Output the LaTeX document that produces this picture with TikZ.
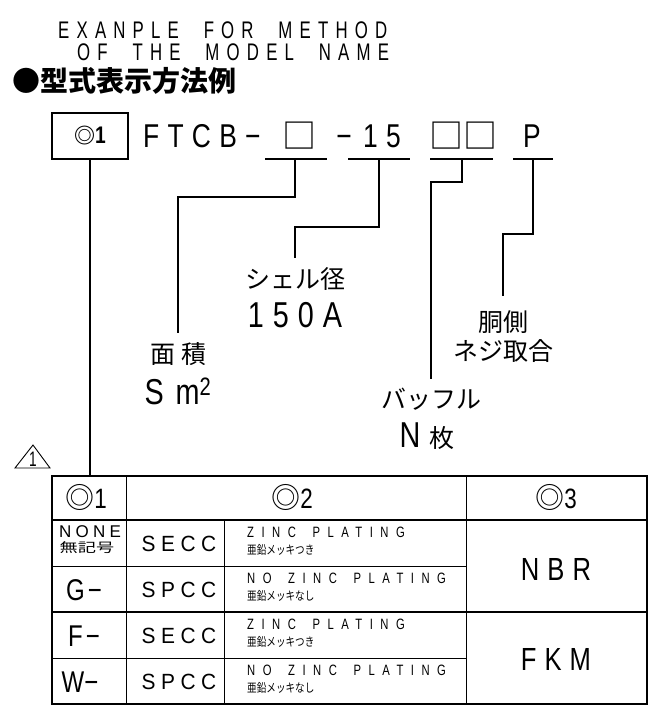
\documentclass[tikz,border=0pt]{standalone}
\usepackage{fontspec}
\setmainfont{Liberation Sans}
\newfontfamily\jp{Noto Sans CJK JP}
\newfontfamily\jpwide{Noto Sans CJK JP}[FakeStretch=1.4]
\newfontfamily\jpnarrow{Noto Sans CJK JP}[FakeStretch=0.8]
\newfontfamily\titlef{Liberation Sans}[FakeStretch=0.7,LetterSpace=30]
\newfontfamily\codef{Liberation Sans}[FakeStretch=0.8,LetterSpace=25]
\newfontfamily\unitf{Liberation Sans}[FakeStretch=0.8]
\newfontfamily\matf{Liberation Sans}[FakeStretch=0.95,LetterSpace=25]
\newfontfamily\cellf{Liberation Sans}[FakeStretch=0.75,LetterSpace=50]
\newfontfamily\wordf{Liberation Sans}[LetterSpace=25]
\newfontfamily\narrowf{Liberation Sans}[FakeStretch=0.65]
\usetikzlibrary{positioning}

\begin{document}
\begin{tikzpicture}[
  x=1pt, y=-1pt,
  lead/.style={line width=2.2pt},
  frame/.style={line width=1.8pt},
  rule/.style={line width=0.9pt},
  tag/.style={draw, line width=1.8pt, minimum width=76pt, minimum height=46pt, inner sep=0pt},
  lbl/.style={inner xsep=0pt, inner ysep=9pt, anchor=north, font=\jp\fontsize{25}{25}\selectfont},
  num/.style={inner sep=0pt, font=\codef\fontsize{36}{36}\selectfont},
  cell/.style={inner sep=0pt, anchor=base},
  head/.style={cell, font=\codef\fontsize{28}{28}\selectfont},
  code/.style={cell, font=\unitf\fontsize{30}{30}\selectfont},
  caption/.style={cell, anchor=base west, font=\titlef\fontsize{24}{24}\selectfont}
]
\useasboundingbox (0,0) rectangle (652,709);

% title
\node[caption] (title1) at (58,38) {EXANPLE\hspace{13pt} FOR\hspace{13pt} METHOD};
\node[caption] (title2) at (77,60) {OF\hspace{13pt} THE\hspace{13pt} MODEL\hspace{13pt} NAME};
\node[cell, anchor=base west, font=\jp\bfseries\fontsize{28}{28}\selectfont] (heading) at (12,91) {●型式表示方法例};

% model name
\node[tag] (opt) at (90,136) {{\jp\bfseries\fontsize{21}{21}\selectfont ◎}{\unitf\bfseries\fontsize{24}{24}\selectfont 1}};
\node[cell, anchor=base west, font=\codef\fontsize{33}{33}\selectfont] (series) at (143,147) {FTCB−};
\node[cell, font=\jp\fontsize{34}{34}\selectfont] (area) at (299,148) {□};
\node[cell, font=\codef\fontsize{33}{33}\selectfont] (dash) at (344,147) {−};
\node[cell, font=\codef\fontsize{33}{33}\selectfont] (dia) at (382,147) {15};
\node[cell, font=\jp\fontsize{34}{34}\selectfont] (baffle) at (463,148) {□□};
\node[cell, font=\codef\fontsize{33}{33}\selectfont] (port) at (532,147) {P};

% underlines
\coordinate (area-l) at (265,159);  \coordinate (area-r) at (327,159);  \coordinate (area-t) at (295,159);
\coordinate (dia-l) at (348,159);   \coordinate (dia-r) at (410,159);   \coordinate (dia-t) at (379,159);
\coordinate (baf-l) at (430,159);   \coordinate (baf-r) at (493,159);   \coordinate (baf-t) at (462,159);
\coordinate (port-l) at (513,159);  \coordinate (port-r) at (553,159);  \coordinate (port-t) at (533,159);
\draw[lead] (area-l) -- (area-r);
\draw[lead] (dia-l) -- (dia-r);
\draw[lead] (baf-l) -- (baf-r);
\draw[lead] (port-l) -- (port-r);

% labels
\node[lbl] (arealbl) at (178,333) {面\hspace{6pt}積};
\node[num, font=\unitf\fontsize{36}{36}\selectfont, below=3pt of arealbl] (areaunit) {S\hspace{12pt}m\textsuperscript{2}};
\node[lbl] (dialbl) at (295,258) {シェル径};
\node[num, below=3pt of dialbl] (diaunit) {150A};
\node[lbl, inner ysep=14pt] (portlbl) at (503,296) {胴側};
\node[lbl, anchor=north, below=-17pt of portlbl] (portsub) {ネジ取合};
\node[lbl] (baflbl) at (431,379) {バッフル};
\node[num, font=\unitf\fontsize{36}{36}\selectfont, below=3pt of baflbl, xshift=-4pt] (bafunit) {N\hspace{9pt}{\jp\fontsize{25}{25}\selectfont 枚}};

\draw[lead] (area-t) -- ++(0,38) -| (arealbl.north);
\draw[lead] (dia-t) -- ++(0,68) -| (dialbl.north);
\draw[lead] (baf-t) -- ++(0,23) -| (baflbl.north);
\draw[lead] (port-t) -- ++(0,75) -| (portlbl.north);

% revision mark
\node[inner sep=0pt, font=\narrowf\fontsize{21}{21}\selectfont] (rev) at (33,459) {1};
\draw[line width=0.9pt] (33,445) -- (50,468) -- (15,468) -- cycle;

% table
\coordinate (tbl-nw) at (52,476);
\coordinate (tbl-se) at (647,704);
\node[head] (h1) at (86,508) {{\jp\fontsize{29}{29}\selectfont ◎}1};
\node[head] (h2) at (292,508) {{\jp\fontsize{29}{29}\selectfont ◎}2};
\node[head] (h3) at (556,508) {{\jp\fontsize{29}{29}\selectfont ◎}3};
\draw[lead] (opt.south) -- (opt.south |- tbl-nw);

\draw[frame] (tbl-nw) rectangle (tbl-se);
\draw[frame] (52,520) -- (647,520);
\draw[frame] (52,612) -- (647,612);
\draw[rule] (52,566) -- (466,566);
\draw[rule] (52,658) -- (466,658);
\draw[rule] (126,476) -- (126,704);
\draw[rule] (224,520) -- (224,704);
\draw[rule] (466,476) -- (466,704);

\node[cell, font=\wordf\fontsize{17}{17}\selectfont] (c1) at (90,537) {NONE};
\node[cell, font=\jpwide\fontsize{13}{13}\selectfont] (c1j) at (87,552) {無記号};
\node[code] (c2) at (84,600) {G\hspace{3pt}−};
\node[code] (c3) at (84,646) {F\hspace{3pt}−};
\node[code] (c4) at (80,692) {W−};

\foreach \yc/\mat/\en/\ja [count=\i] in {543/SECC/ZINC\hspace{6pt} PLATING/亜鉛メッキつき,
    589/SPCC/NO\hspace{6pt} ZINC\hspace{6pt} PLATING/亜鉛メッキなし,
    635/SECC/ZINC\hspace{6pt} PLATING/亜鉛メッキつき,
    681/SPCC/NO\hspace{6pt} ZINC\hspace{6pt} PLATING/亜鉛メッキなし} {
  \node[cell, font=\matf\fontsize{22}{22}\selectfont] (mat-\i) at (179,\yc+8) {\mat};
  \node[cell, anchor=base west, font=\cellf\fontsize{15}{15}\selectfont] (en-\i) at (247,\yc-6) {\en};
  \node[cell, anchor=base west, font=\jpnarrow\fontsize{12}{12}\selectfont] (ja-\i) at (247,\yc+11) {\ja};
}

\node[cell, font=\codef\fontsize{32}{32}\selectfont] (seal1) at (556,580) {NBR};
\node[cell, font=\codef\fontsize{32}{32}\selectfont] (seal2) at (556,670) {FKM};
\end{tikzpicture}
\end{document}
